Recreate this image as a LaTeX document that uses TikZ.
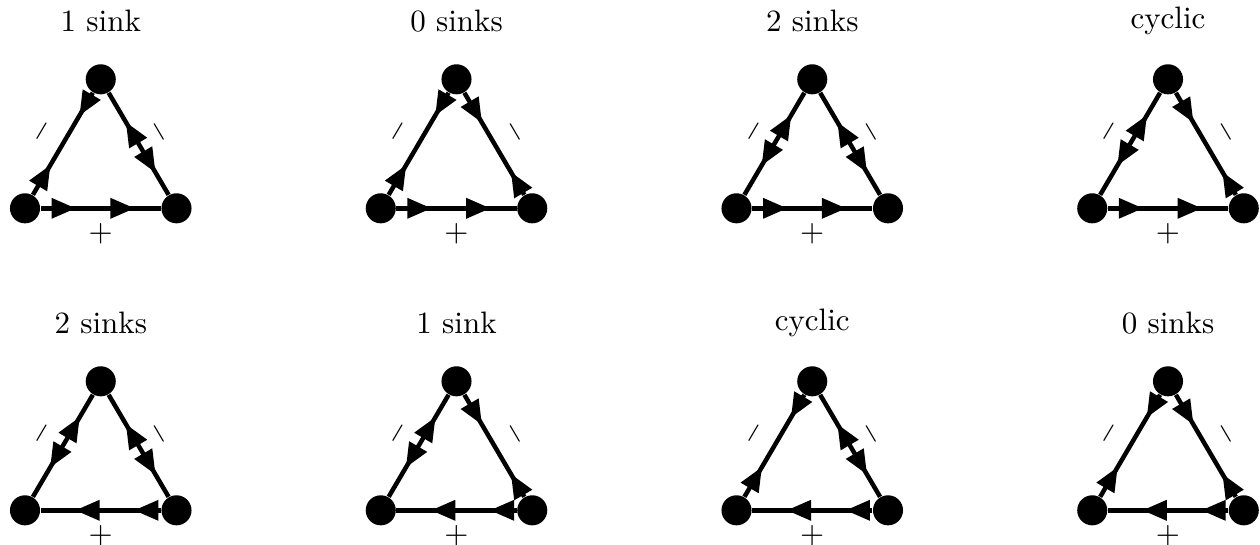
\documentclass[tikz,border=0pt]{standalone}
\usetikzlibrary{decorations.markings}
\newcommand\tipF{\fill (0,0) -- (-24,10.5) -- (-24,-10.5) -- cycle;}
\newcommand\tipR{\fill (0,0) -- (24,10.5) -- (24,-10.5) -- cycle;}
\tikzset{
  vtx/.style={circle, fill=black, inner sep=0pt, minimum size=9.7pt},
  edge/.style={line width=1.45pt},
  ff/.style={edge, postaction=decorate, decoration={markings,
      mark=at position 0.29 with {\tipF},
      mark=at position 0.78 with {\tipF}}},
  fr/.style={edge, postaction=decorate, decoration={markings,
      mark=at position 0.29 with {\tipF},
      mark=at position 0.78 with {\tipR}}},
  rf/.style={edge, postaction=decorate, decoration={markings,
      mark=at position 0.29 with {\tipR},
      mark=at position 0.78 with {\tipF}}},
  rr/.style={edge, postaction=decorate, decoration={markings,
      mark=at position 0.29 with {\tipR},
      mark=at position 0.78 with {\tipR}}},
  minuslbl/.style={midway, sloped, above=0.4pt},
  pluslbl/.style={midway, below=0.8pt},
}
\newcommand\tri[7]{%
  \node[vtx] (#1a) at (#2,#3) {};
  \node[vtx] (#1b) at ({#2+151.5},#3) {};
  \node[vtx] (#1c) at ({#2+75.75},{#3-129}) {};
  \node (#1t) at ({#2+75.75},{#3-187}) {#4};
  \draw[#5] (#1a) -- node[minuslbl]{$-$} (#1c);
  \draw[#6] (#1c) -- node[minuslbl]{$-$} (#1b);
  \draw[#7] (#1a) -- node[pluslbl]{$+$} (#1b);
}
\begin{document}
\begin{tikzpicture}[x=0.3226pt, y=-0.3226pt]
  \useasboundingbox (0,0) rectangle (1260,544);
  \tri{p1}{25}{208.3}{1 sink}{fr}{rf}{ff}
  \tri{p2}{380.75}{208.3}{0 sinks}{fr}{fr}{ff}
  \tri{p3}{736.5}{208.3}{2 sinks}{rf}{rf}{ff}
  \tri{p4}{1092.25}{208.3}{cyclic}{rf}{fr}{ff}
  \tri{p5}{25}{510.3}{2 sinks}{rf}{rf}{rr}
  \tri{p6}{380.75}{510.3}{1 sink}{rf}{fr}{rr}
  \tri{p7}{736.5}{510.3}{cyclic}{fr}{rf}{rr}
  \tri{p8}{1092.25}{510.3}{0 sinks}{fr}{fr}{rr}
\end{tikzpicture}
\end{document}
